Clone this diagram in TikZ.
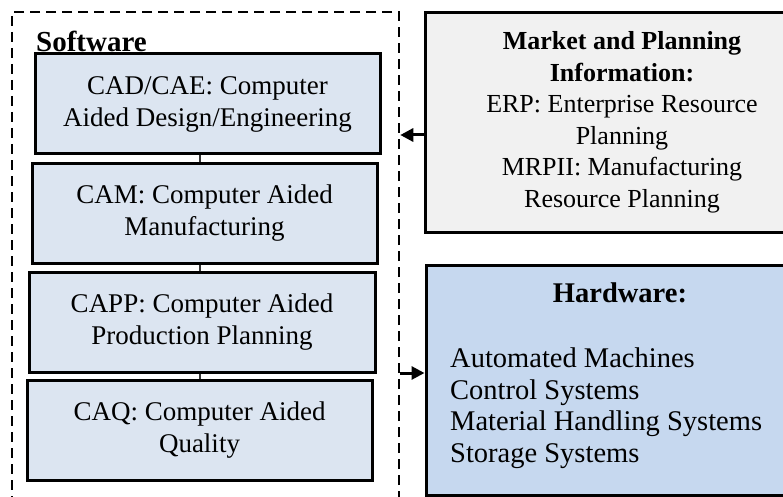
\documentclass[tikz,border=0pt]{standalone}
\usepackage{fontspec}
\setmainfont{Liberation Serif}
\usetikzlibrary{arrows.meta}
\definecolor{swfill}{HTML}{DCE5F1}
\definecolor{hwfill}{HTML}{C6D8EF}
\definecolor{mkfill}{HTML}{F1F1F1}
\tikzset{
  txt/.style={font=\fontsize{27}{32}\selectfont},
  hwtxt/.style={font=\fontsize{28.5}{31.5}\selectfont},
  swbox/.style={draw=black, line width=3pt, fill=swfill, txt, align=center,
    minimum width=345pt, minimum height=100pt, inner sep=0pt},
  sidebox/.style={draw=black, line width=3pt, inner sep=0pt},
  frame/.style={draw=black, line width=2.5pt, dash pattern=on 10pt off 6pt,
    minimum width=387pt, minimum height=486pt, inner sep=0pt},
  link/.style={draw=black!80, line width=1.5pt},
  arr/.style={draw=black, line width=3pt, -{Triangle[length=13pt,width=13pt]}}
}
\begin{document}
\begin{tikzpicture}[x=1pt,y=-1pt]
  \useasboundingbox (0,0) rectangle (783,497);
  \fill[white] (0,0) rectangle (783,497);

  % software group frame (its lower edge runs along the page border)
  \node[frame] (sw) at (205.5,255) {};
  \node[font=\fontsize{29}{32}\selectfont\bfseries, anchor=base west, inner sep=0pt]
    (swlabel) at (36,52) {Software};

  % software modules
  \node[swbox] (cad)  at (207.5,104) {CAD/CAE: Computer\\Aided Design/Engineering};
  \node[swbox] (cam)  at (204.5,213) {CAM: Computer Aided\\Manufacturing};
  \node[swbox, minimum width=346pt] (capp) at (202,322) {CAPP: Computer Aided\\Production Planning};
  \node[swbox] (caq)  at (199.5,430) {CAQ: Computer Aided\\Quality};

  \coordinate (spine) at (200,0);
  \draw[link] (cad.south -| spine) -- (cam.north -| spine);
  \draw[link] (cam.south -| spine) -- (capp.north -| spine);
  \draw[link] (capp.south -| spine) -- (caq.north -| spine);

  % market and planning information
  \node[sidebox, fill=mkfill, minimum width=394pt, minimum height=219pt,
        font=\fontsize{26}{31.5}\selectfont, align=center] (mkt) at (622,122.5)
    {\textbf{Market and Planning}\\\textbf{Information:}\\ERP: Enterprise Resource\\Planning\\MRPII: Manufacturing\\Resource Planning};

  % hardware
  \node[sidebox, fill=hwfill, minimum width=388pt, minimum height=230pt] (hw) at (620,380) {};
  \node[hwtxt, anchor=base, inner sep=0pt] (hwtitle) at (620,302) {\textbf{Hardware:}};
  \node[hwtxt, anchor=base west, align=left, inner sep=0pt] (hwlist) at (450,462)
    {Automated Machines\\Control Systems\\Material Handling Systems\\Storage Systems};

  % information flow
  \coordinate (inrow) at (0,135);
  \coordinate (outrow) at (0,373);
  \draw[arr] (mkt.west |- inrow) -- (sw.east |- inrow);
  \draw[arr] (sw.east |- outrow) -- (hw.west |- outrow);
\end{tikzpicture}
\end{document}
